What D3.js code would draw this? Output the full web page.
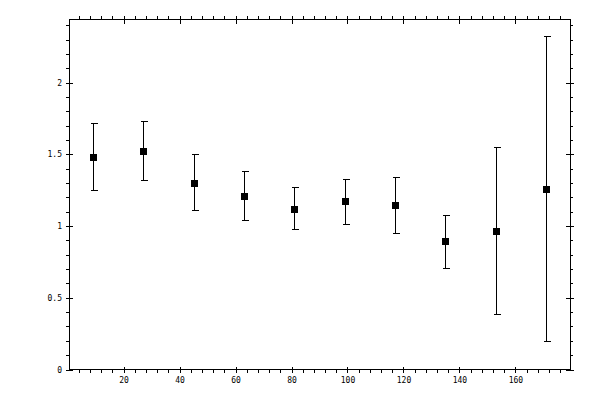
<!DOCTYPE html>
<html><head><meta charset="utf-8">
<script src="https://cdn.jsdelivr.net/npm/d3@7"></script>
<style>body{margin:0;background:#fff}svg{display:block}</style>
</head><body>
<script>
const xs = [9, 27, 45, 63, 81, 99, 117, 135, 153, 171];
const ys = [1.483, 1.525, 1.302, 1.212, 1.121, 1.177, 1.149, 0.898, 0.968, 1.260];
const yHi = [1.720, 1.734, 1.499, 1.386, 1.274, 1.330, 1.344, 1.079, 1.553, 2.328];
const yLo = [1.253, 1.323, 1.109, 1.040, 0.977, 1.017, 0.954, 0.710, 0.390, 0.202];
const xMajor = [20, 40, 60, 80, 100, 120, 140, 160];
const xMinor = d3.range(4, 180, 4);
const yMajor = [0, 0.5, 1, 1.5, 2];
const yMinor = d3.range(0, 2.45, 0.1);
const yLabels = ["0", "0.5", "1", "1.5", "2"];

const W = 600, H = 400;
const L = 69, R = 570, T = 19.5, B = 369.5;
const x = d3.scaleLinear().domain([0.5, 179.5]).range([L, R]);
const y = d3.scaleLinear().domain([0, 2.44]).range([B, T]);

const svg = d3.select("body").append("svg").attr("width", W).attr("height", H)
  .attr("shape-rendering", "crispEdges");

const font = "'DejaVu Sans Mono', monospace";

// bottom axis
const axB = svg.append("g").attr("transform", `translate(0,${B})`);
axB.call(d3.axisBottom(x).tickValues(xMinor).tickSize(3).tickFormat(""));
axB.append("g").call(d3.axisBottom(x).tickValues(xMajor).tickSize(3).tickFormat(d3.format("d")))
  .call(g => g.selectAll(".tick line").attr("y1", -3).attr("y2", 3))
  .call(g => g.selectAll(".tick text").attr("y", 8).attr("font-family", font).attr("font-size", 8));
// top axis
const axT = svg.append("g").attr("transform", `translate(0,${T})`);
axT.call(d3.axisTop(x).tickValues(xMinor).tickSize(4).tickFormat(""));
axT.append("g").call(d3.axisTop(x).tickValues(xMajor).tickFormat(""))
  .call(g => g.selectAll(".tick line").attr("y1", -4).attr("y2", 4));
// left axis
const axL = svg.append("g").attr("transform", `translate(${L},0)`);
axL.call(d3.axisLeft(y).tickValues(yMinor).tickSize(3).tickFormat(""));
axL.append("g").call(d3.axisLeft(y).tickValues(yMajor).tickFormat((d, i) => yLabels[i]))
  .call(g => g.selectAll(".tick line").attr("x1", -3).attr("x2", 4))
  .call(g => g.selectAll(".tick text").attr("x", -7).attr("font-family", font).attr("font-size", 8));
// right axis
const axR = svg.append("g").attr("transform", `translate(${R},0)`);
axR.call(d3.axisRight(y).tickValues(yMinor).tickSize(3).tickFormat(""));
axR.append("g").call(d3.axisRight(y).tickValues(yMajor).tickFormat(""))
  .call(g => g.selectAll(".tick line").attr("x1", -4).attr("x2", 4));

svg.selectAll(".domain").remove();
svg.selectAll(".tick line").attr("stroke", "#000");
svg.selectAll(".tick text").attr("fill", "#000");

// frame
svg.append("rect").attr("x", L).attr("y", T).attr("width", R - L).attr("height", B - T)
  .attr("fill", "none").attr("stroke", "#000").attr("stroke-width", 1);

// error bars
const eg = svg.append("g").attr("stroke", "#000").attr("stroke-width", 1);
xs.forEach((xv, i) => {
  const cx = Math.round(x(xv)) + 0.5;
  const yh = Math.round(y(yHi[i])) + 0.5, yl = Math.round(y(yLo[i])) + 0.5;
  eg.append("line").attr("x1", cx).attr("x2", cx).attr("y1", yh).attr("y2", yl);
  eg.append("line").attr("x1", cx - 3).attr("x2", cx + 4).attr("y1", yh).attr("y2", yh);
  eg.append("line").attr("x1", cx - 3).attr("x2", cx + 4).attr("y1", yl).attr("y2", yl);
});
svg.append("g").selectAll("rect").data(xs).join("rect")
  .attr("x", (d) => Math.round(x(d)) - 3)
  .attr("y", (d, i) => Math.round(y(ys[i])) - 3)
  .attr("width", 7).attr("height", 7).attr("fill", "#000");
</script>
</body></html>
